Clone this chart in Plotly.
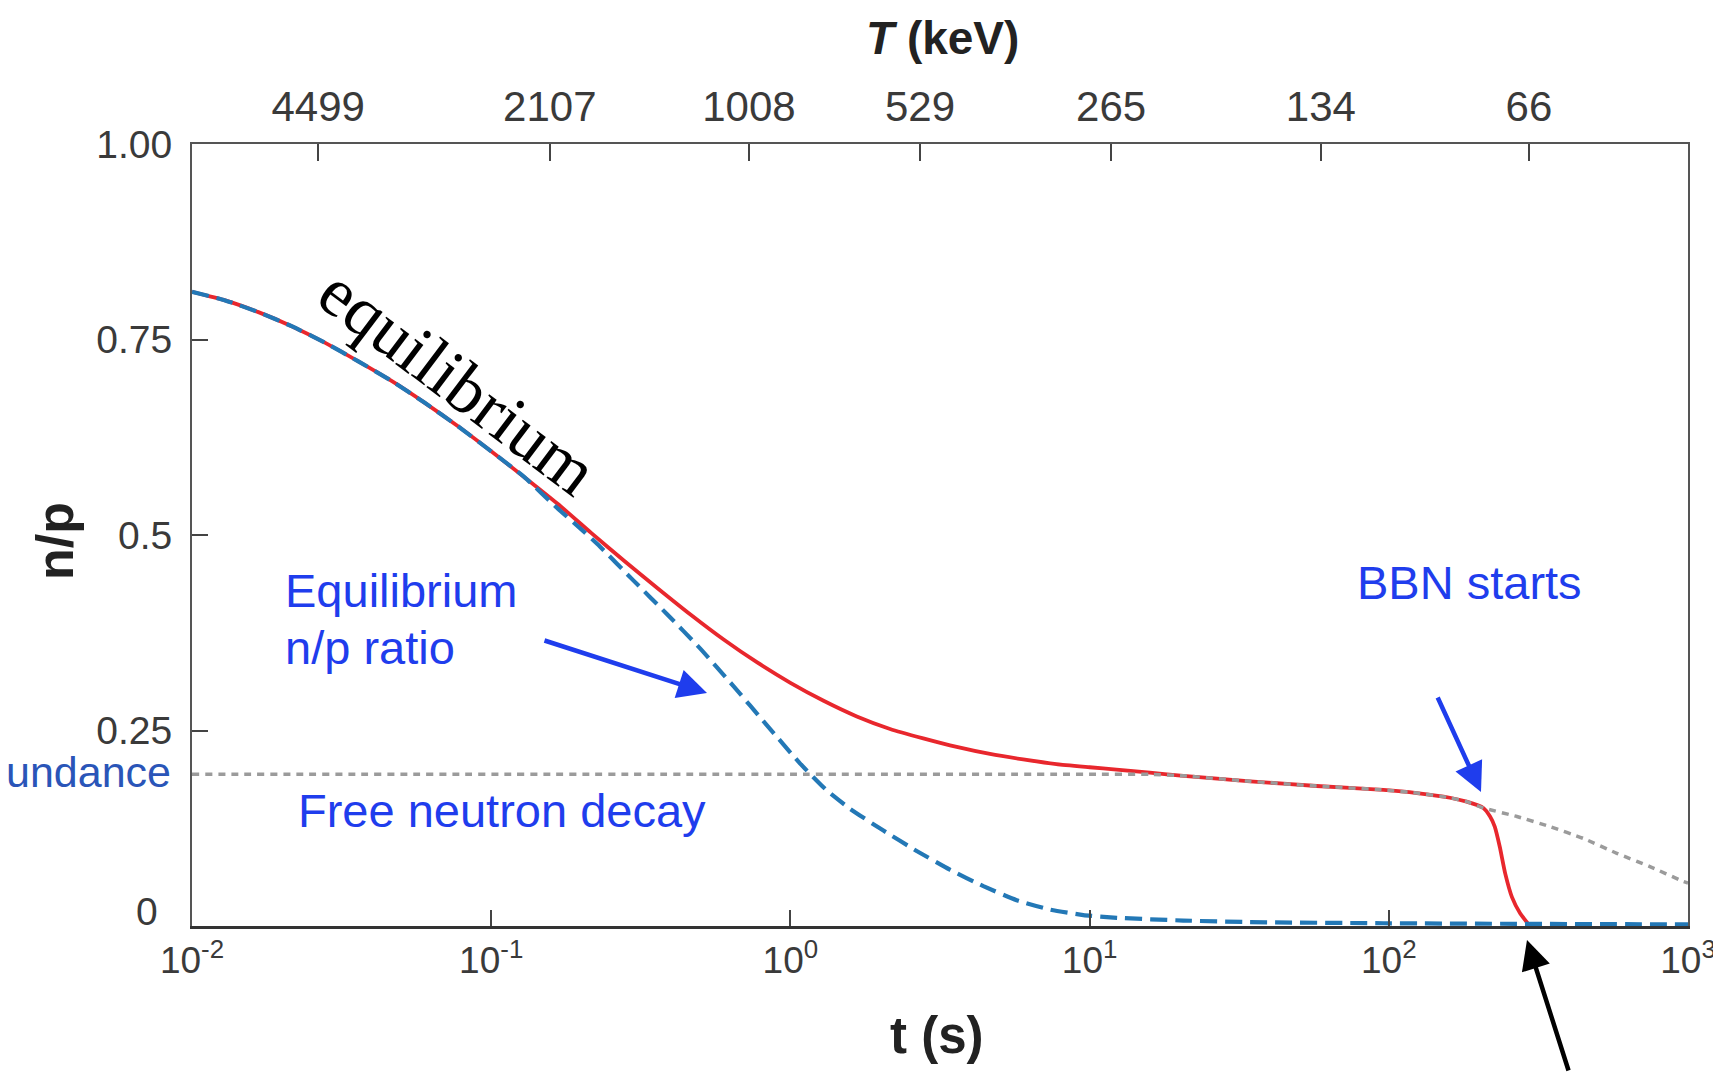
import plotly.graph_objects as go

# ---- data ----
# Red solid curve: actual n/p ratio
t_red = [0.01, 0.01291, 0.01667, 0.02153, 0.0278, 0.03597, 0.04645, 0.05998, 0.07745, 0.1,
         0.1291, 0.1667, 0.2153, 0.278, 0.3597, 0.4645, 0.5998, 0.7745, 1.0, 1.291,
         1.667, 2.153, 2.78, 3.597, 4.645, 5.998, 7.745, 10.0, 12.3, 15.9, 20.6,
         34.4, 57.4, 95.9, 124, 160, 182, 207, 218, 226, 235, 245, 258, 275, 292]
np_red = [0.811, 0.800, 0.785, 0.767, 0.746, 0.722, 0.697, 0.669, 0.639, 0.607,
          0.574, 0.540, 0.503, 0.467, 0.432, 0.398, 0.366, 0.337, 0.311, 0.288,
          0.268, 0.252, 0.240, 0.229, 0.220, 0.213, 0.207, 0.203, 0.200, 0.196, 0.192,
          0.185, 0.179, 0.174, 0.170, 0.164, 0.159, 0.151, 0.140, 0.127, 0.101, 0.067,
          0.037, 0.016, 0.003]

# Blue dashed curve: equilibrium n/p ratio
t_eq = [0.01, 0.01291, 0.01667, 0.02153, 0.0278, 0.03597, 0.04645, 0.05998, 0.07745, 0.1,
        0.1291, 0.1667, 0.2032, 0.2312, 0.2985, 0.3864, 0.4989, 0.6442, 0.8337, 1.076,
        1.318, 1.581, 2.046, 2.642, 3.412, 4.416, 5.702, 7.379, 9.528, 12.33, 20.56,
        34.36, 95.9, 1000]
np_eq = [0.811, 0.800, 0.785, 0.767, 0.746, 0.722, 0.697, 0.669, 0.639, 0.607,
         0.574, 0.534, 0.505, 0.485, 0.442, 0.399, 0.355, 0.307, 0.257, 0.208,
         0.174, 0.150, 0.122, 0.096, 0.072, 0.051, 0.033, 0.021, 0.014, 0.0105, 0.007,
         0.005, 0.0035, 0.002]

# Gray dotted curve: free neutron decay from freeze-out abundance
t_free = [0.01, 1.0, 10.0, 15.9, 20.6, 34.4, 57.4, 95.9, 124, 160, 182, 207,
          268, 346, 447, 578, 746, 964, 1000]
np_free = [0.194, 0.194, 0.194, 0.194, 0.192, 0.185, 0.179, 0.174, 0.170, 0.164, 0.159, 0.151,
           0.140, 0.127, 0.112, 0.093, 0.076, 0.057, 0.055]

# axis ticks
x_tickvals = [1e-2, 1e-1, 1e0, 1e1, 1e2, 1e3]
x_ticktext = ["10<sup>-2</sup>", "10<sup>-1</sup>", "10<sup>0</sup>",
              "10<sup>1</sup>", "10<sup>2</sup>", "10<sup>3</sup>"]
T_tickvals = [0.0264, 0.157, 0.727, 2.71, 11.8, 59.3, 294]
T_ticktext = ["4499", "2107", "1008", "529", "265", "134", "66"]
y_tickvals = [0.25, 0.5, 0.75, 1.0]
y_ticktext = ["0.25", "0.5", "0.75", "1.00"]
y_zero_label = "0"

# ---- layout geometry (screen pixels; page body has an 8px margin) ----
OFF = 8
W, H = 1721 - OFF, 1072 - OFF
L, R, T, B = 192, 1688, 144, 926   # plot area on screen


def px(xpix):
    return (xpix - L) / (R - L)


def py(ypix):
    return (B - ypix) / (B - T)


SANS = "Liberation Sans, Arial, sans-serif"
LBLUE = "#1f3ded"
TICKC = "#3a3a3a"

fig = go.Figure()
fig.add_trace(go.Scatter(x=t_red, y=np_red, mode="lines",
                         line=dict(color="#e8272d", width=3.8, shape="spline", smoothing=0.5),
                         hoverinfo="skip"))
fig.add_trace(go.Scatter(x=t_free, y=np_free, mode="lines",
                         line=dict(color="#9b9b9b", width=3.5, dash="7px,6px", shape="spline",
                                   smoothing=0.5),
                         hoverinfo="skip"))
fig.add_trace(go.Scatter(x=t_eq, y=np_eq, mode="lines",
                         line=dict(color="#2378b6", width=4.2, dash="17px,8px", shape="spline",
                                   smoothing=0.5),
                         hoverinfo="skip"))
# invisible trace on top axis
fig.add_trace(go.Scatter(x=[1e-2, 1e3], y=[None, None], xaxis="x2", mode="lines",
                         showlegend=False, hoverinfo="skip"))

fig.update_layout(
    width=W, height=H,
    margin=dict(l=L - OFF, r=W - (R - OFF), t=T - OFF, b=H - (B - OFF), autoexpand=False),
    paper_bgcolor="white", plot_bgcolor="white",
    showlegend=False,
    font=dict(family=SANS, color=TICKC, size=38),
    xaxis=dict(type="log", range=[-2, 3], tickvals=x_tickvals, ticktext=x_ticktext,
               ticks="inside", ticklen=16, tickwidth=2, tickcolor="#444", automargin=False,
               showline=True, linecolor="#333", linewidth=3, showgrid=False, zeroline=False,
               tickfont=dict(size=37, color=TICKC), ticklabelstandoff=0),
    xaxis2=dict(type="log", range=[-2, 3], overlaying="x", side="top", anchor="y",
                tickvals=T_tickvals, ticktext=T_ticktext, automargin=False,
                ticks="inside", ticklen=17, tickwidth=2, tickcolor="#444",
                showline=True, linecolor="#555", linewidth=2, showgrid=False, zeroline=False,
                tickfont=dict(size=42, color=TICKC), ticklabelstandoff=4),
    yaxis=dict(range=[0, 1], tickvals=y_tickvals, ticktext=y_ticktext, automargin=False,
               ticks="inside", ticklen=16, tickwidth=2, tickcolor="#444",
               showline=True, linecolor="#555", linewidth=2, mirror=True,
               showgrid=False, zeroline=False,
               tickfont=dict(size=39, color=TICKC), ticklabelstandoff=10),
)

ann = []
# zero label of the y axis (drawn slightly raised, as in the reference)
ann.append(dict(x=px(160), y=py(911), xref="paper", yref="paper", showarrow=False,
                text=y_zero_label, font=dict(size=39, color=TICKC, family=SANS),
                xanchor="right", yanchor="middle"))
# axis titles
ann.append(dict(x=px(942), y=py(38), xref="paper", yref="paper", showarrow=False,
                text="<b><i>T</i> (keV)</b>", font=dict(size=46, color="#222", family=SANS),
                xanchor="center", yanchor="middle"))
ann.append(dict(x=px(936), y=py(1035), xref="paper", yref="paper", showarrow=False,
                text="<b>t (s)</b>", font=dict(size=51, color="#222", family=SANS),
                xanchor="center", yanchor="middle"))
ann.append(dict(x=px(55), y=py(541), xref="paper", yref="paper", showarrow=False,
                text="<b>n/p</b>", textangle=-90, font=dict(size=52, color="#222", family=SANS),
                xanchor="center", yanchor="middle"))
# labels
ann.append(dict(x=px(458), y=py(381), xref="paper", yref="paper", showarrow=False,
                text="equilibrium", textangle=37,
                font=dict(size=70, color="black", family="Liberation Serif, Times New Roman, serif"),
                xanchor="center", yanchor="middle"))
ann.append(dict(x=px(283), y=py(590), xref="paper", yref="paper", showarrow=False,
                text="Equilibrium",
                font=dict(size=47, color=LBLUE, family=SANS),
                xanchor="left", yanchor="middle"))
ann.append(dict(x=px(283), y=py(647), xref="paper", yref="paper", showarrow=False,
                text="n/p ratio",
                font=dict(size=47, color=LBLUE, family=SANS),
                xanchor="left", yanchor="middle"))
ann.append(dict(x=px(296), y=py(810), xref="paper", yref="paper", showarrow=False,
                text="Free neutron decay",
                font=dict(size=47, color=LBLUE, family=SANS),
                xanchor="left", yanchor="middle"))
ann.append(dict(x=px(1355), y=py(582), xref="paper", yref="paper", showarrow=False,
                text="BBN starts",
                font=dict(size=47, color=LBLUE, family=SANS),
                xanchor="left", yanchor="middle"))
ann.append(dict(x=px(173), y=py(772), xref="paper", yref="paper", showarrow=False,
                text="undance",
                font=dict(size=43, color="#2a55b8", family=SANS),
                xanchor="right", yanchor="middle"))
# arrows
ann.append(dict(x=px(707), y=py(693), xref="paper", yref="paper", text="",
                showarrow=True, arrowhead=2, arrowsize=1.3, arrowwidth=4.5, arrowcolor=LBLUE,
                ax=-164, ay=-53))
ann.append(dict(x=px(1481), y=py(792), xref="paper", yref="paper", text="",
                showarrow=True, arrowhead=2, arrowsize=1.3, arrowwidth=4.5, arrowcolor=LBLUE,
                ax=-44, ay=-96))
ann.append(dict(x=px(1527), y=py(940), xref="paper", yref="paper", text="",
                showarrow=True, arrowhead=2, arrowsize=1.3, arrowwidth=4.5, arrowcolor="black",
                ax=42, ay=132))
fig.update_layout(annotations=ann)

fig.write_html("out.html")
